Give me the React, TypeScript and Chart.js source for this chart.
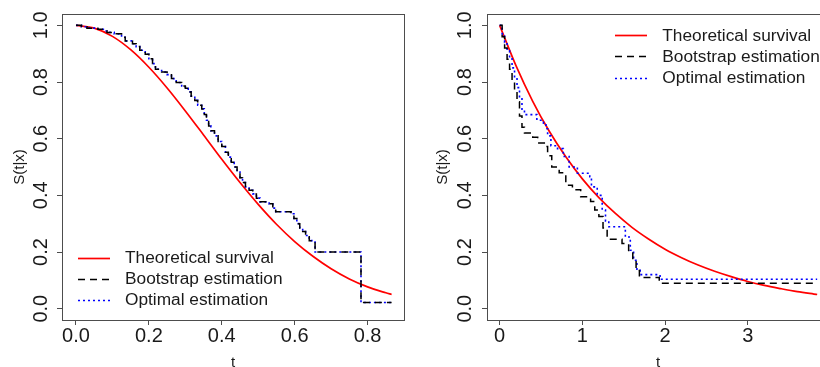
import React, { useEffect, useRef } from "react";
import { Chart, registerables } from "chart.js";

Chart.register(...registerables);

// ---------- data ----------
const seriesLabels = ["Theoretical survival", "Bootstrap estimation", "Optimal estimation"];
const xTitle = "t";
const yTitle = "S(t|x)";

const yTicks = [0, 0.2, 0.4, 0.6, 0.8, 1.0];
const yTickLabels = ["0.0", "0.2", "0.4", "0.6", "0.8", "1.0"];

const leftXTicks = [0, 0.2, 0.4, 0.6, 0.8];
const leftXTickLabels = ["0.0", "0.2", "0.4", "0.6", "0.8"];
const rightXTicks = [0, 1, 2, 3];
const rightXTickLabels = ["0", "1", "2", "3"];

// left panel
const leftTheoT = [0, 0.05, 0.1, 0.15, 0.2, 0.25, 0.3, 0.35, 0.4, 0.45, 0.5, 0.55, 0.6, 0.65, 0.7, 0.75, 0.8, 0.85, 0.866];
const leftTheoS = [1, 0.99, 0.961, 0.914, 0.852, 0.779, 0.698, 0.613, 0.527, 0.445, 0.368, 0.298, 0.237, 0.185, 0.141, 0.105, 0.077, 0.056, 0.05];

const leftBootT = [0, 0.015, 0.03, 0.06, 0.075, 0.085, 0.105, 0.125, 0.135, 0.155, 0.165, 0.175, 0.19, 0.2, 0.21, 0.218, 0.235, 0.25, 0.262, 0.275, 0.29, 0.3, 0.308, 0.316, 0.326, 0.334, 0.345, 0.352, 0.358, 0.364, 0.37, 0.38, 0.39, 0.4, 0.41, 0.418, 0.426, 0.434, 0.442, 0.45, 0.457, 0.465, 0.475, 0.485, 0.495, 0.505, 0.53, 0.54, 0.548, 0.59, 0.598, 0.606, 0.614, 0.622, 0.63, 0.64, 0.65, 0.656, 0.782, 0.866];
const leftBootS = [1, 0.995, 0.99, 0.986, 0.98, 0.975, 0.97, 0.958, 0.945, 0.935, 0.925, 0.912, 0.898, 0.882, 0.865, 0.845, 0.835, 0.826, 0.812, 0.798, 0.786, 0.778, 0.765, 0.75, 0.735, 0.718, 0.705, 0.685, 0.665, 0.645, 0.628, 0.61, 0.59, 0.572, 0.552, 0.535, 0.517, 0.5, 0.482, 0.462, 0.445, 0.43, 0.418, 0.405, 0.39, 0.377, 0.37, 0.355, 0.342, 0.335, 0.318, 0.3, 0.285, 0.272, 0.258, 0.24, 0.235, 0.2, 0.022, 0.022];

const leftOptT = [0, 0.015, 0.03, 0.06, 0.075, 0.085, 0.105, 0.125, 0.135, 0.155, 0.165, 0.175, 0.19, 0.2, 0.21, 0.218, 0.235, 0.25, 0.262, 0.275, 0.29, 0.3, 0.308, 0.316, 0.326, 0.334, 0.345, 0.352, 0.358, 0.364, 0.37, 0.38, 0.39, 0.4, 0.41, 0.418, 0.426, 0.434, 0.442, 0.45, 0.457, 0.465, 0.475, 0.485, 0.495, 0.505, 0.53, 0.54, 0.548, 0.59, 0.598, 0.606, 0.614, 0.622, 0.63, 0.64, 0.65, 0.656, 0.782, 0.866];
const leftOptS = [1, 0.995, 0.99, 0.986, 0.98, 0.975, 0.97, 0.958, 0.945, 0.935, 0.925, 0.912, 0.898, 0.882, 0.865, 0.845, 0.835, 0.826, 0.812, 0.798, 0.786, 0.778, 0.765, 0.75, 0.735, 0.718, 0.705, 0.685, 0.665, 0.645, 0.628, 0.61, 0.59, 0.572, 0.552, 0.535, 0.517, 0.5, 0.482, 0.462, 0.445, 0.43, 0.418, 0.405, 0.39, 0.377, 0.37, 0.355, 0.342, 0.335, 0.318, 0.3, 0.285, 0.272, 0.258, 0.24, 0.235, 0.2, 0.022, 0.022];

// right panel
const rightTheoT = [0, 0.2, 0.4, 0.6, 0.8, 1.0, 1.2, 1.4, 1.6, 1.8, 2.0, 2.2, 2.4, 2.6, 2.8, 3.0, 3.2, 3.4, 3.6, 3.8, 3.84];
const rightTheoS = [1, 0.856, 0.732, 0.626, 0.536, 0.458, 0.392, 0.336, 0.287, 0.246, 0.21, 0.18, 0.154, 0.132, 0.113, 0.096, 0.082, 0.0705, 0.06, 0.0516, 0.05];

const rightBootT = [0, 0.03, 0.06, 0.09, 0.12, 0.15, 0.18, 0.21, 0.24, 0.27, 0.30, 0.40, 0.46, 0.54, 0.58, 0.63, 0.72, 0.80, 0.88, 0.98, 1.10, 1.15, 1.20, 1.25, 1.30, 1.48, 1.56, 1.61, 1.65, 1.69, 1.93, 3.84];
const rightBootS = [1, 0.96, 0.92, 0.88, 0.845, 0.81, 0.77, 0.73, 0.68, 0.64, 0.62, 0.605, 0.585, 0.572, 0.54, 0.5, 0.48, 0.436, 0.42, 0.395, 0.378, 0.348, 0.325, 0.285, 0.245, 0.23, 0.2, 0.17, 0.135, 0.11, 0.09, 0.09];

const rightOptT = [0, 0.03, 0.06, 0.09, 0.12, 0.15, 0.18, 0.21, 0.24, 0.27, 0.30, 0.45, 0.53, 0.56, 0.58, 0.62, 0.70, 0.77, 0.84, 0.94, 1.09, 1.11, 1.18, 1.24, 1.28, 1.32, 1.52, 1.58, 1.62, 1.66, 1.70, 1.94, 3.84];
const rightOptS = [1, 0.97, 0.94, 0.91, 0.885, 0.85, 0.815, 0.78, 0.745, 0.7, 0.685, 0.665, 0.655, 0.635, 0.61, 0.575, 0.565, 0.537, 0.5, 0.478, 0.466, 0.43, 0.4, 0.348, 0.31, 0.289, 0.253, 0.206, 0.171, 0.135, 0.12, 0.104, 0.104];

// ---------- styling ----------
const FONT = "'Liberation Sans', Arial, sans-serif";
const AXIS = "#4d4d4d";
const TEXT = "#1a1a1a";

const pairs = (xs: number[], ys: number[]) => xs.map((x, i) => ({ x, y: ys[i] }));

const labelFor = (vals: number[], labels: string[]) => (value: any) => {
  const i = vals.findIndex((v) => Math.abs(v - Number(value)) < 1e-9);
  return i >= 0 ? labels[i] : "";
};

const boxPlugin = {
  id: "rBox",
  afterDatasetsDraw(chart: any) {
    const { ctx, chartArea: a } = chart;
    ctx.save();
    ctx.strokeStyle = AXIS;
    ctx.lineWidth = 1;
    ctx.setLineDash([]);
    ctx.strokeRect(Math.round(a.left) + 0.5, Math.round(a.top) + 0.5, Math.round(a.right - a.left), Math.round(a.bottom - a.top));
    ctx.restore();
  },
};

const legendPlugin = {
  id: "rLegend",
  afterDatasetsDraw(chart: any, _args: any, opts: any) {
    const { ctx } = chart;
    chart.data.datasets.forEach((ds: any, i: number) => {
      const y = opts.y0 + i * opts.gap;
      ctx.save();
      ctx.strokeStyle = ds.borderColor;
      ctx.lineWidth = ds.borderWidth;
      ctx.setLineDash(ds.borderDash || []);
      ctx.beginPath();
      ctx.moveTo(opts.x0, Math.round(y) + 0.5);
      ctx.lineTo(opts.x1, Math.round(y) + 0.5);
      ctx.stroke();
      ctx.setLineDash([]);
      ctx.fillStyle = TEXT;
      ctx.font = `17.3px ${FONT}`;
      ctx.textBaseline = "middle";
      ctx.textAlign = "left";
      ctx.fillText(ds.label, opts.tx, y + 1);
      ctx.restore();
    });
  },
};

type PanelCfg = {
  theo: { x: number; y: number }[];
  boot: { x: number; y: number }[];
  opt: { x: number; y: number }[];
  xMin: number;
  xMax: number;
  xTicks: number[];
  xTickLabels: string[];
  yWidth: number;
  padRight: number;
  yTickPad: number;
  yTitlePad: number;
  legend: { x0: number; x1: number; tx: number; y0: number; gap: number };
};

function makeChart(canvas: HTMLCanvasElement, cfg: PanelCfg) {
  return new Chart(canvas, {
    type: "line",
    data: {
      datasets: [
        {
          label: seriesLabels[0],
          data: cfg.theo,
          borderColor: "#ff0000",
          borderWidth: 1.7,
          pointRadius: 0,
          cubicInterpolationMode: "monotone",
          fill: false,
          order: 3,
        },
        {
          label: seriesLabels[1],
          data: cfg.boot,
          borderColor: "#000000",
          borderWidth: 1.5,
          borderDash: [7, 5],
          stepped: "before",
          pointRadius: 0,
          fill: false,
          order: 1,
        },
        {
          label: seriesLabels[2],
          data: cfg.opt,
          borderColor: "#0000ff",
          borderWidth: 1.6,
          borderDash: [2, 3],
          stepped: "before",
          pointRadius: 0,
          fill: false,
          order: 2,
        },
      ] as any,
    },
    options: {
      responsive: false,
      animation: false,
      events: [],
      layout: { padding: { left: 0, top: 14, right: cfg.padRight, bottom: 0 } },
      plugins: {
        legend: { display: false },
        tooltip: { enabled: false },
        rLegend: cfg.legend,
      } as any,
      scales: {
        x: {
          type: "linear",
          position: "bottom",
          min: cfg.xMin,
          max: cfg.xMax,
          afterBuildTicks: (s: any) => {
            s.ticks = cfg.xTicks.map((v) => ({ value: v }));
          },
          afterFit: (s: any) => {
            s.height = 47;
          },
          ticks: {
            font: { family: FONT, size: 20, lineHeight: 1 },
            color: TEXT,
            padding: 1,
            minRotation: 0,
            maxRotation: 0,
            autoSkip: false,
            callback: labelFor(cfg.xTicks, cfg.xTickLabels),
          },
          grid: { drawOnChartArea: false, drawTicks: true, tickLength: 5, color: AXIS, lineWidth: 1 },
          border: { display: false },
          title: {
            display: true,
            text: xTitle,
            color: TEXT,
            font: { family: FONT, size: 15, lineHeight: 1 },
            padding: { top: 0, bottom: -3 },
          },
        },
        y: {
          type: "linear",
          position: "left",
          min: -0.04,
          max: 1.04,
          afterBuildTicks: (s: any) => {
            s.ticks = yTicks.map((v) => ({ value: v }));
          },
          afterFit: (s: any) => {
            s.width = cfg.yWidth;
          },
          ticks: {
            font: { family: FONT, size: 20, lineHeight: 1 },
            color: TEXT,
            padding: cfg.yTickPad,
            minRotation: 90,
            maxRotation: 90,
            crossAlign: "center",
            autoSkip: false,
            callback: labelFor(yTicks, yTickLabels),
          },
          grid: { drawOnChartArea: false, drawTicks: true, tickLength: 5, color: AXIS, lineWidth: 1 },
          border: { display: false },
          title: {
            display: true,
            text: yTitle,
            color: TEXT,
            font: { family: FONT, size: 15, lineHeight: 1 },
            padding: { top: cfg.yTitlePad, bottom: 0 },
          },
        },
      } as any,
    },
    plugins: [boxPlugin, legendPlugin],
  } as any);
}

export default function App() {
  const leftRef = useRef<HTMLCanvasElement | null>(null);
  const rightRef = useRef<HTMLCanvasElement | null>(null);

  useEffect(() => {
    const charts: Chart[] = [];
    if (leftRef.current) {
      charts.push(
        makeChart(leftRef.current, {
          theo: pairs(leftTheoT, leftTheoS),
          boot: pairs(leftBootT, leftBootS),
          opt: pairs(leftOptT, leftOptS),
          xMin: -0.0384,
          xMax: 0.9,
          xTicks: leftXTicks,
          xTickLabels: leftXTickLabels,
          yWidth: 62,
          padRight: 6,
          yTickPad: 1.5,
          yTitlePad: 12.5,
          legend: { x0: 78, x1: 110, tx: 125, y0: 257.5, gap: 21 },
        })
      );
    }
    if (rightRef.current) {
      charts.push(
        makeChart(rightRef.current, {
          theo: pairs(rightTheoT, rightTheoS),
          boot: pairs(rightBootT, rightBootS),
          opt: pairs(rightOptT, rightOptS),
          xMin: -0.153,
          xMax: 3.983,
          xTicks: rightXTicks,
          xTickLabels: rightXTickLabels,
          yWidth: 77,
          padRight: 3,
          yTickPad: 2.5,
          yTitlePad: 25.5,
          legend: { x0: 205, x1: 237, tx: 252.3, y0: 35, gap: 21.3 },
        })
      );
    }
    return () => charts.forEach((c) => c.destroy());
  }, []);

  return (
    <div
      style={{
        position: "fixed",
        left: 0,
        top: 0,
        width: 820,
        height: 367,
        overflow: "hidden",
        background: "#ffffff",
      }}
    >
      <canvas ref={leftRef} width={410} height={367} style={{ position: "absolute", left: 0, top: 0 }} />
      <canvas ref={rightRef} width={422} height={367} style={{ position: "absolute", left: 410, top: 0 }} />
    </div>
  );
}
